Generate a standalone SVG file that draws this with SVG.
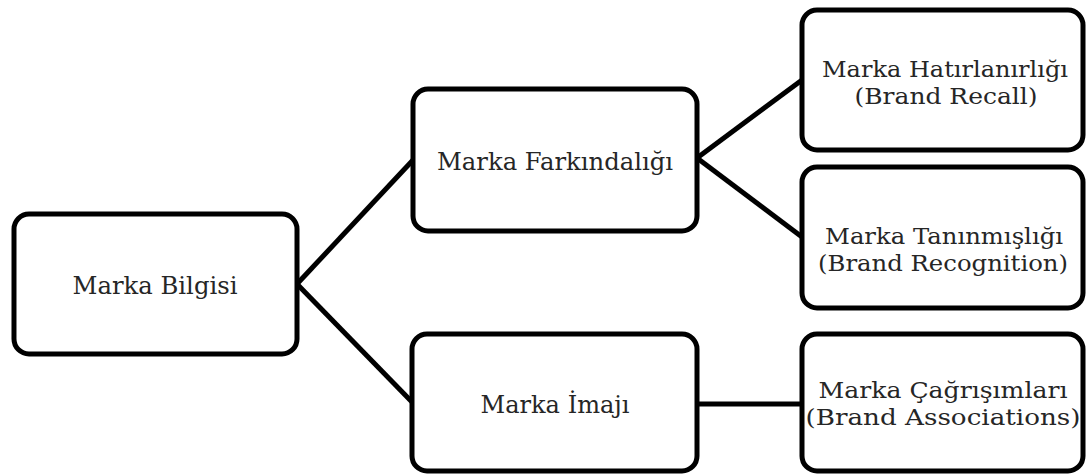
<svg xmlns="http://www.w3.org/2000/svg" width="1088" height="475" viewBox="0 0 1088 475">
  <style>
    .box { fill: #ffffff; stroke: #000000; stroke-width: 5; }
    .lbl { font-family: "DejaVu Serif", "Liberation Serif", serif; font-size: 23px; fill: #262626; text-anchor: middle; }
    .big { font-size: 25px; }
    .link { stroke: #000000; stroke-width: 5; fill: none; }
  </style>
  <rect width="1088" height="475" fill="#ffffff"/>

  <g id="connectors">
    <line class="link" x1="297" y1="284" x2="413" y2="160"/>
    <line class="link" x1="297" y1="284" x2="412" y2="402"/>
    <line class="link" x1="697" y1="158" x2="802" y2="80"/>
    <line class="link" x1="697" y1="158" x2="802" y2="237"/>
    <line class="link" x1="697" y1="404" x2="802" y2="404"/>
  </g>

  <g id="node-bilgi">
    <rect class="box" x="14" y="214" width="283" height="140" rx="15"/>
    <text class="lbl big" x="155" y="294" textLength="165" lengthAdjust="spacingAndGlyphs">Marka Bilgisi</text>
  </g>

  <g id="node-farkindalik">
    <rect class="box" x="413" y="89" width="284" height="142" rx="15"/>
    <text class="lbl big" x="555" y="170" textLength="236" lengthAdjust="spacingAndGlyphs">Marka Farkındalığı</text>
  </g>

  <g id="node-imaj">
    <rect class="box" x="412" y="334" width="285" height="137" rx="15"/>
    <text class="lbl big" x="555" y="413" textLength="149" lengthAdjust="spacingAndGlyphs">Marka İmajı</text>
  </g>

  <g id="node-hatirlanirlik">
    <rect class="box" x="802" y="10" width="281" height="140" rx="15"/>
    <text class="lbl" x="945" y="77" textLength="246" lengthAdjust="spacingAndGlyphs">Marka Hatırlanırlığı</text>
    <text class="lbl" x="946" y="104" textLength="183" lengthAdjust="spacingAndGlyphs">(Brand Recall)</text>
  </g>

  <g id="node-taninmislik">
    <rect class="box" x="802" y="167" width="281" height="141" rx="15"/>
    <text class="lbl" x="944" y="244" textLength="238" lengthAdjust="spacingAndGlyphs">Marka Tanınmışlığı</text>
    <text class="lbl" x="943" y="271" textLength="250" lengthAdjust="spacingAndGlyphs">(Brand Recognition)</text>
  </g>

  <g id="node-cagrisim">
    <rect class="box" x="802" y="334" width="281" height="137" rx="15"/>
    <text class="lbl" x="943" y="398" textLength="249" lengthAdjust="spacingAndGlyphs">Marka Çağrışımları</text>
    <text class="lbl" x="943" y="425" textLength="275" lengthAdjust="spacingAndGlyphs">(Brand Associations)</text>
  </g>
</svg>
